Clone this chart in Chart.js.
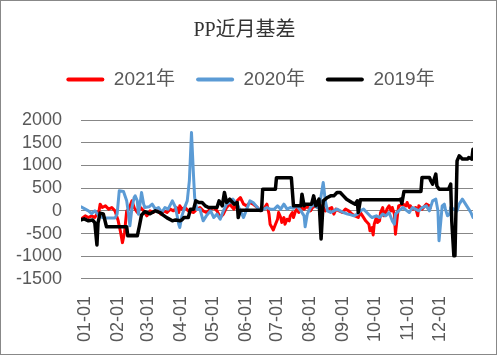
<!DOCTYPE html>
<html>
<head>
<meta charset="utf-8">
<script src="https://cdn.jsdelivr.net/npm/chart.js@4.4.0/dist/chart.umd.min.js"></script>
<style>
html,body{margin:0;padding:0;background:#fff;}
#wrap{width:497px;height:355px;}
</style>
</head>
<body>
<div id="wrap"><canvas id="c" width="497" height="355"></canvas></div>
<script>
// ---- data (x = day of year, 0 = 01-01) ----
const tickDays = [0,31,59,90,120,151,181,212,243,273,304,334];
const tickLabels = ["01-01","02-01","03-01","04-01","05-01","06-01","07-01","08-01","09-01","10-01","11-01","12-01"];
const yTicks = [-1500,-1000,-500,0,500,1000,1500,2000];
const seriesNames = ["2021年","2020年","2019年"];

const days2021 = [-4,0,3,6,9,13,14,16,19,22,25,28,31,33,35,37,39,41,44,46,49,52,55,58,61,64,67,71,74,77,80,83,86,88,89,91,94,97,102,105,108,111,114,118,121,124,127,130,133,136,140,143,146,149,152,155,158,162,165,168,171,173,174,177,179,181,182,184,185,187,188,190,192,193,195,196,198,199,201,203,206,209,212,214,217,220,223,226,229,232,234,236,239,242,245,248,251,254,257,259,261,264,267,268,270,271,272,274,275,277,278,280,281,283,284,286,288,289,291,292,294,295,299,302,303,305,306,308,311,313,314,317,321,324,325];
const values2021 = [-184,-110,-147,-110,-147,0,147,73,110,37,73,0,-220,-440,-700,-477,0,37,220,73,-37,73,0,-110,0,-37,37,-73,0,-37,37,0,73,-37,110,37,73,0,-37,37,73,0,-37,37,73,0,-147,-73,73,147,37,220,294,147,110,184,147,73,0,37,147,-73,-294,-420,-300,-184,-37,-147,-257,-147,-294,-184,-220,-110,-37,-147,0,37,-37,73,37,110,0,73,110,73,110,0,37,73,-73,37,0,-37,37,0,-73,-110,-147,-37,-110,-220,-294,-440,-367,-530,-294,-147,-257,-220,-37,73,-110,-37,37,110,0,73,-73,-514,-73,110,147,110,184,73,110,37,73,-110,110,37,147,110,73];

const days2020 = [-4,0,3,6,9,13,16,19,28,30,32,36,39,41,42,44,46,47,49,50,52,53,55,56,60,63,66,69,72,75,78,82,85,88,89,91,93,96,98,100,102,103,105,108,111,114,118,121,124,127,130,133,136,139,143,146,149,152,155,158,162,165,168,171,174,178,181,184,187,190,193,196,199,203,206,207,209,212,215,218,221,224,226,228,231,234,237,240,243,247,250,253,256,259,262,265,268,270,274,277,280,283,286,289,291,292,295,299,302,305,308,311,314,317,321,324,327,330,332,333,335,336,338,339,341,343,344,347,350,352,355,358,361,363,365];
const values2020 = [88,37,0,-59,0,-110,-147,-160,-160,-73,440,425,220,-110,-330,73,294,330,220,-73,220,404,147,73,88,147,37,73,-37,73,37,220,73,-294,-367,-110,37,220,660,1725,734,294,30,37,-220,-110,0,-147,-73,-184,0,147,184,257,147,0,-147,37,220,184,73,0,37,73,37,37,110,37,147,37,73,59,110,0,-110,-350,-73,73,147,73,184,624,220,0,-37,0,37,0,-37,-73,-88,-110,-73,0,37,-37,-110,-147,-110,-147,-73,-110,-37,-220,-294,-73,0,73,15,-37,73,37,0,73,110,0,220,257,0,-660,-147,110,147,37,-110,-73,73,37,0,147,257,147,37,-37,-147];

const days2019 = [-4,-1,3,7,9,11,12,14,17,20,39,40,49,51,53,56,61,66,71,73,77,82,85,89,91,93,97,99,102,104,107,110,113,116,124,126,129,131,133,136,140,143,144,146,150,166,167,179,180,194,196,203,204,206,207,213,215,217,220,222,224,228,231,234,237,240,243,246,251,254,256,257,259,295,297,298,300,316,317,324,325,327,330,331,333,342,344,345,347,348,350,352,355,360,361,364,365];
const values2019 = [-200,-176,-220,-200,-265,-750,-265,-50,-66,-350,-350,-550,-550,-330,-90,-20,-66,0,-44,-90,-155,-220,-200,-220,-200,-147,-147,37,37,220,184,184,110,73,73,220,110,404,184,257,147,184,-147,15,15,15,477,477,730,730,110,110,367,110,147,147,330,110,257,-620,220,294,330,330,404,404,330,257,184,147,220,-37,242,242,260,160,426,426,734,734,675,587,808,550,477,477,587,-220,-990,-990,1100,1211,1140,1140,1174,1140,1358];

const toPoints = (d, v) => d.map((x, i) => ({x: x, y: v[i]}));

const sansFont = "'Liberation Sans', 'Noto Sans CJK SC', sans-serif";

const bgPlugin = {
  id: 'bgBorder',
  beforeDraw(chart) {
    const ctx = chart.ctx;
    ctx.save();
    ctx.fillStyle = '#ffffff';
    ctx.fillRect(0, 0, chart.width, chart.height);
    ctx.restore();
  },
  afterDraw(chart) {
    const ctx = chart.ctx;
    ctx.save();
    ctx.strokeStyle = '#888888';
    ctx.lineWidth = 1;
    ctx.strokeRect(0.5, 0.5, chart.width - 1, chart.height - 1);
    ctx.restore();
  }
};

const legendMargin = {
  id: 'legendMargin',
  beforeInit(chart) {
    const origFit = chart.legend.fit;
    chart.legend.fit = function () {
      origFit.bind(chart.legend)();
      this.height += 21;
    };
  },
  afterLayout(chart) {
    chart.legend.left += 6;
    chart.legend.right += 6;
  }
};

new Chart(document.getElementById('c'), {
  type: 'line',
  data: {
    datasets: [
      {label: seriesNames[0], data: toPoints(days2021, values2021), borderColor: '#FF0000', backgroundColor: '#FF0000', borderWidth: 3, order: 2},
      {label: seriesNames[1], data: toPoints(days2020, values2020), borderColor: '#5B9BD5', backgroundColor: '#5B9BD5', borderWidth: 3, order: 1},
      {label: seriesNames[2], data: toPoints(days2019, values2019), borderColor: '#000000', backgroundColor: '#000000', borderWidth: 3.5, order: 0}
    ]
  },
  options: {
    responsive: false,
    animation: false,
    devicePixelRatio: 1,
    events: [],
    layout: {padding: {left: 16, right: 24, top: 13, bottom: 13}},
    elements: {
      point: {radius: 0},
      line: {tension: 0, fill: false, borderJoinStyle: 'round', borderCapStyle: 'round'}
    },
    plugins: {
      tooltip: {enabled: false},
      title: {
        display: true,
        text: 'PP近月基差',
        color: '#333333',
        font: {family: "'Liberation Serif', 'Noto Sans CJK SC', serif", size: 20, weight: 'normal'},
        padding: {top: 6, bottom: 6}
      },
      legend: {
        display: true,
        position: 'top',
        labels: {
          color: '#595959',
          font: {family: sansFont, size: 19},
          boxWidth: 38,
          boxHeight: 4,
          padding: 21,
          sort: (a, b) => a.datasetIndex - b.datasetIndex,
          generateLabels(chart) {
            const items = Chart.defaults.plugins.legend.labels.generateLabels(chart);
            items.forEach(it => {
              const ds = chart.data.datasets[it.datasetIndex];
              it.fillStyle = ds.borderColor;
              it.lineWidth = 0;
              it.borderRadius = 2;
            });
            return items;
          }
        }
      }
    },
    scales: {
      x: {
        type: 'linear',
        min: -4,
        max: 365,
        grid: {display: false, drawTicks: true, tickLength: 17},
        border: {display: false},
        afterBuildTicks(axis) {
          axis.ticks = tickDays.map(v => ({value: v}));
        },
        ticks: {
          autoSkip: false,
          minRotation: 90,
          maxRotation: 90,
          padding: 0,
          color: '#595959',
          font: {family: sansFont, size: 18},
          callback: (value, index) => tickLabels[index]
        }
      },
      y: {
        type: 'linear',
        min: yTicks[0],
        max: yTicks[yTicks.length - 1],
        afterBuildTicks(axis) {
          axis.ticks = yTicks.map(v => ({value: v}));
        },
        afterFit(axis) {
          axis.width = 65;
        },
        grid: {color: '#878787', lineWidth: 1, drawTicks: false},
        border: {display: false},
        ticks: {
          autoSkip: false,
          padding: 19,
          color: '#595959',
          font: {family: sansFont, size: 18},
          callback: (value) => String(value)
        }
      }
    }
  },
  plugins: [bgPlugin, legendMargin]
});
</script>
</body>
</html>
